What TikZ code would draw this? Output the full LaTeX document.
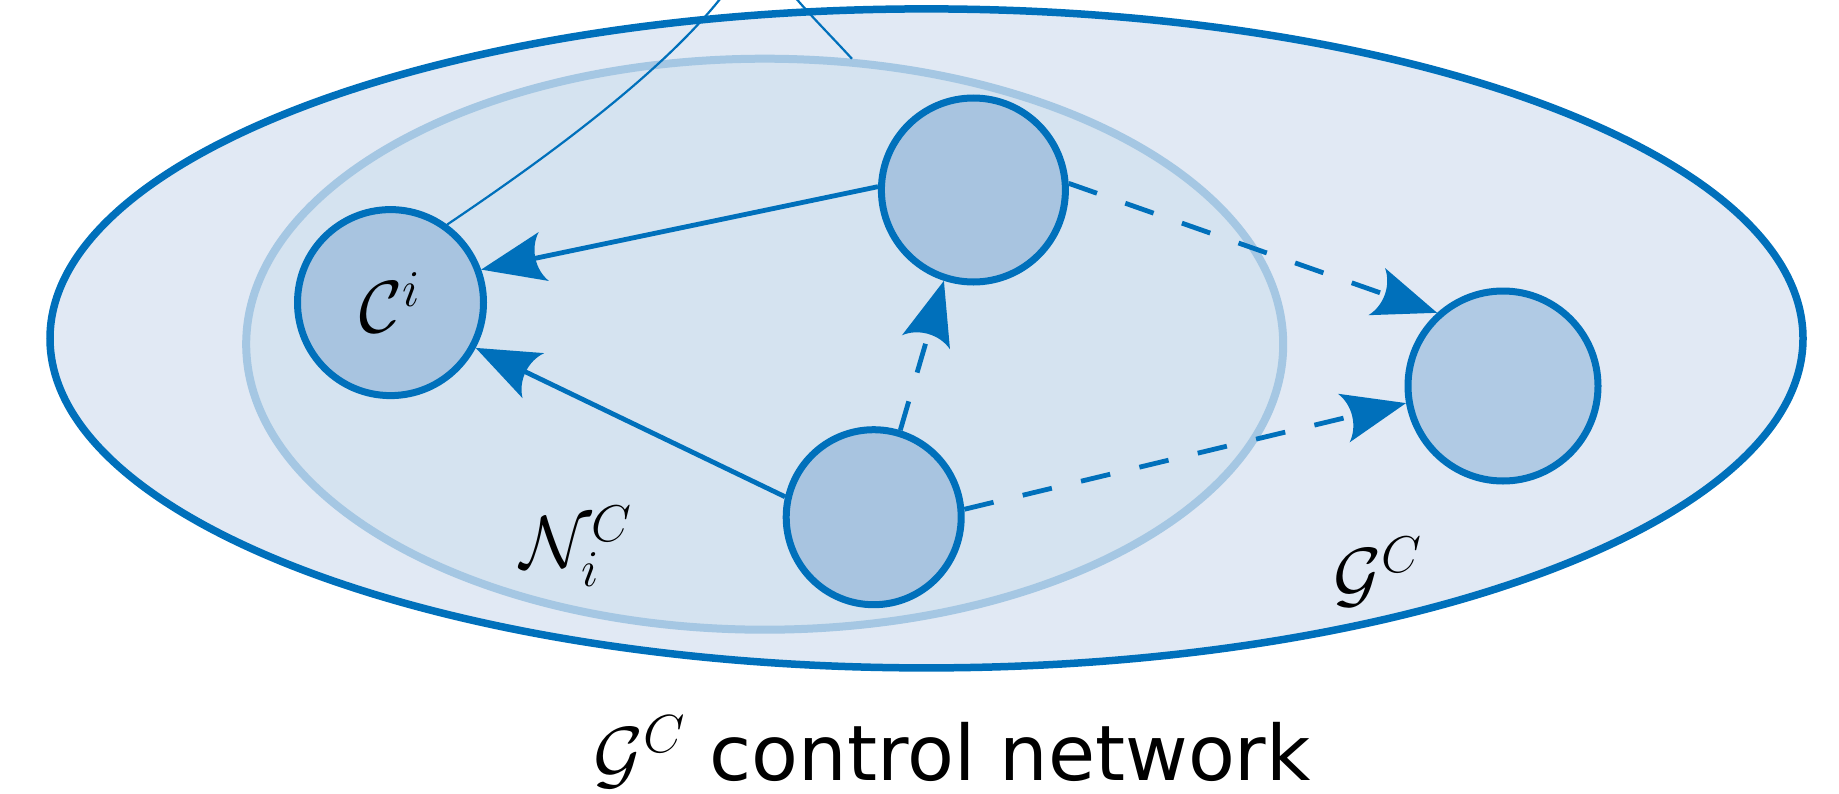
\documentclass[tikz,border=0pt]{standalone}
\usepackage{fix-cm}
\usepackage{fontspec}
\newfontfamily\labelfont{DejaVu Sans}
\usetikzlibrary{arrows.meta,shapes.geometric}
\definecolor{dblue}{HTML}{0070BB}
\definecolor{outerfill}{HTML}{E1E9F4}
\definecolor{innerfill}{HTML}{D5E3F0}
\definecolor{innerline}{HTML}{A5C7E3}
\definecolor{cfill}{HTML}{A8C4E0}
\definecolor{rfill}{HTML}{B0CAE4}
\pgfdeclarearrow{
  name=CurvedBack,
  parameters={\the\pgfarrowlength,\the\pgfarrowwidth},
  setup code={
    \pgfarrowssettipend{0pt}
    \pgfarrowssetlineend{-.6\pgfarrowlength}
    \pgfarrowssetbackend{-\pgfarrowlength}
    \pgfarrowshullpoint{0pt}{0pt}
    \pgfarrowsupperhullpoint{-\pgfarrowlength}{.5\pgfarrowwidth}
    \pgfarrowssavethe\pgfarrowlength
    \pgfarrowssavethe\pgfarrowwidth
  },
  drawing code={
    \pgfpathmoveto{\pgfqpoint{0pt}{0pt}}
    \pgfpathlineto{\pgfqpoint{-\pgfarrowlength}{.5\pgfarrowwidth}}
    \pgfpathcurveto{\pgfqpoint{-.82\pgfarrowlength}{.22\pgfarrowwidth}}{\pgfqpoint{-.82\pgfarrowlength}{-.22\pgfarrowwidth}}{\pgfqpoint{-\pgfarrowlength}{-.5\pgfarrowwidth}}
    \pgfpathclose
    \pgfusepathqfill
  },
  defaults={length=6pt, width=4pt}
}
\tikzset{
  bigell/.style={ellipse, inner sep=0pt},
  nd/.style={circle, draw=dblue, line width=0.07cm, minimum size=#1, inner sep=0pt},
  arr/.style={draw=dblue, line width=0.048cm, -{CurvedBack[length=0.64cm,width=0.5cm]}},
  dsh/.style={arr, dash pattern=on 0.3cm off 0.3cm},
  thinline/.style={draw=dblue, line width=0.022cm},
  mlab/.style={font=\fontsize{21}{25}\selectfont},
}
\begin{document}
\begin{tikzpicture}
\fill[white] (0,0) rectangle (18.39,7.93);
\useasboundingbox (0,0) rectangle (18.39,7.93);
\node[bigell, fill=outerfill, draw=dblue, line width=0.075cm, minimum width=17.53cm, minimum height=6.59cm] (outer) at (9.265,4.546) {};
\node[bigell, fill=innerfill, draw=innerline, line width=0.08cm, minimum width=10.37cm, minimum height=5.71cm] (inner) at (7.647,4.488) {};
\node[nd=1.86cm, fill=cfill, mlab] (ci) at (3.905,4.904) {$\mathcal{C}^i$};
\node[nd=1.84cm, fill=cfill] (top) at (9.734,6.03) {};
\node[nd=1.75cm, fill=cfill] (bot) at (8.737,2.758) {};
\node[nd=1.90cm, fill=rfill] (right) at (15.03,4.07) {};
\coordinate (t1) at (7.24,7.99);
\coordinate (t2) at (7.94,7.97);
\draw[thinline] (ci.54) .. controls (5.40,6.31) and (6.62,7.19) .. (t1);
\draw[thinline] (inner.73.4) .. controls (8.32,7.56) and (8.10,7.78) .. (t2);
\draw[arr] (top.178) -- (ci.20.7);
\draw[arr] (bot.167) -- (ci.-28);
\draw[dsh] (bot.73) -- (top.-108.6);
\draw[dsh] (top.4.7) -- (right.132);
\draw[dsh] (bot.5.7) -- (right.190.6);
\node[mlab] (nlab) at (5.77,2.47) {$\mathcal{N}_i^C$};
\node[mlab] (glab) at (13.78,2.21) {$\mathcal{G}^C$};
\node[anchor=base, font=\fontsize{21.8}{26}\selectfont] (cap) at (9.52,0.13) {$\mathcal{G}^C$ \labelfont control network};
\end{tikzpicture}
\end{document}
